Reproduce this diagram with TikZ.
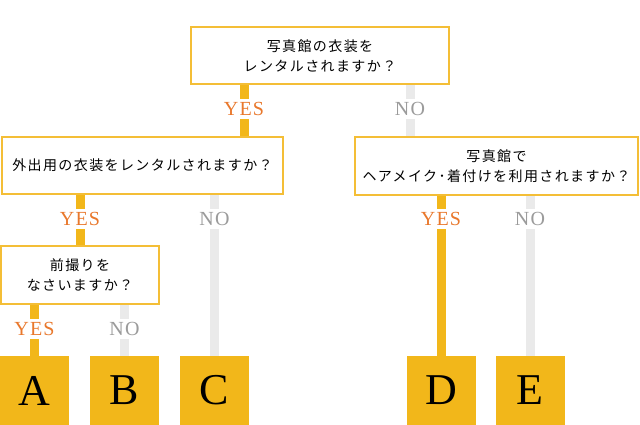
\documentclass[tikz,border=0pt]{standalone}
\usepackage{fontspec}
\newfontfamily\jp[LetterSpace=10]{Noto Sans CJK JP}
\newfontfamily\labfont[LetterSpace=6]{Liberation Serif}
\newfontfamily\ansfont{Liberation Serif}
\usetikzlibrary{backgrounds}
\definecolor{gold}{HTML}{F2B71A}
\definecolor{goldline}{HTML}{F4BE36}
\definecolor{yesc}{HTML}{E9782C}
\definecolor{noc}{HTML}{9B9B9B}
\definecolor{nol}{HTML}{EAEAEA}
\tikzset{
  qbox/.style={draw=goldline, line width=2pt, fill=white, inner sep=0pt, align=center,
    font=\jp\fontsize{14}{20}\selectfont, text=black},
  abox/.style={fill=gold, inner sep=0pt, minimum width=69pt, minimum height=69pt,
    font=\ansfont\fontsize{44}{44}\selectfont},
  yeslab/.style={fill=white, inner xsep=1pt, inner ysep=3pt, text=yesc, font=\labfont\fontsize{20}{20}\selectfont},
  nolab/.style={fill=white, inner xsep=1pt, inner ysep=3pt, text=noc, font=\labfont\fontsize{20}{20}\selectfont},
  yesline/.style={draw=gold, line width=9pt},
  noline/.style={draw=nol, line width=9pt},
}
\begin{document}
\begin{tikzpicture}[x=1pt, y=-1pt]
\useasboundingbox (0,0) rectangle (640,425);
% question boxes
\node[qbox, minimum width=258pt, minimum height=57pt] (q1) at (320,55.5) {写真館の衣装を\\レンタルされますか？};
\node[qbox, minimum width=281pt, minimum height=57pt] (q2) at (142.5,165.5) {外出用の衣装をレンタルされますか？};
\node[qbox, minimum width=283pt, minimum height=58pt] (q3) at (496.5,166) {写真館で\\ヘアメイク･着付けを利用されますか？};
\node[qbox, minimum width=158pt, minimum height=58pt] (q4) at (80,275) {前撮りを\\なさいますか？};
% answers
\node[abox] (A) at (34.5,390.5) {A};
\node[abox] (B) at (124.5,390.5) {B};
\node[abox] (C) at (214.5,390.5) {C};
\node[abox] (D) at (441,390.5) {D};
\node[abox] (E) at (530,390.5) {E};
% labels
\node[yeslab] (y1) at (244,109) {YES};
\node[nolab] (n1) at (410,109) {NO};
\node[yeslab] (y2) at (80,219) {YES};
\node[nolab] (n2) at (214.5,219) {NO};
\node[yeslab] (y3) at (441,219) {YES};
\node[nolab] (n3) at (530,219) {NO};
\node[yeslab] (y4) at (34.5,329) {YES};
\node[nolab] (n4) at (124.5,329) {NO};
% connectors
\begin{pgfonlayer}{background}
\draw[yesline] (y1 |- q1.south) -- (y1 |- q2.north);
\draw[noline] (n1 |- q1.south) -- (n1 |- q3.north);
\draw[yesline] (y2 |- q2.south) -- (y2 |- q4.north);
\draw[noline] (n2 |- q2.south) -- (C.north);
\draw[yesline] (y3 |- q3.south) -- (D.north);
\draw[noline] (n3 |- q3.south) -- (E.north);
\draw[yesline] (y4 |- q4.south) -- (A.north);
\draw[noline] (n4 |- q4.south) -- (B.north);
\end{pgfonlayer}
\end{tikzpicture}
\end{document}
